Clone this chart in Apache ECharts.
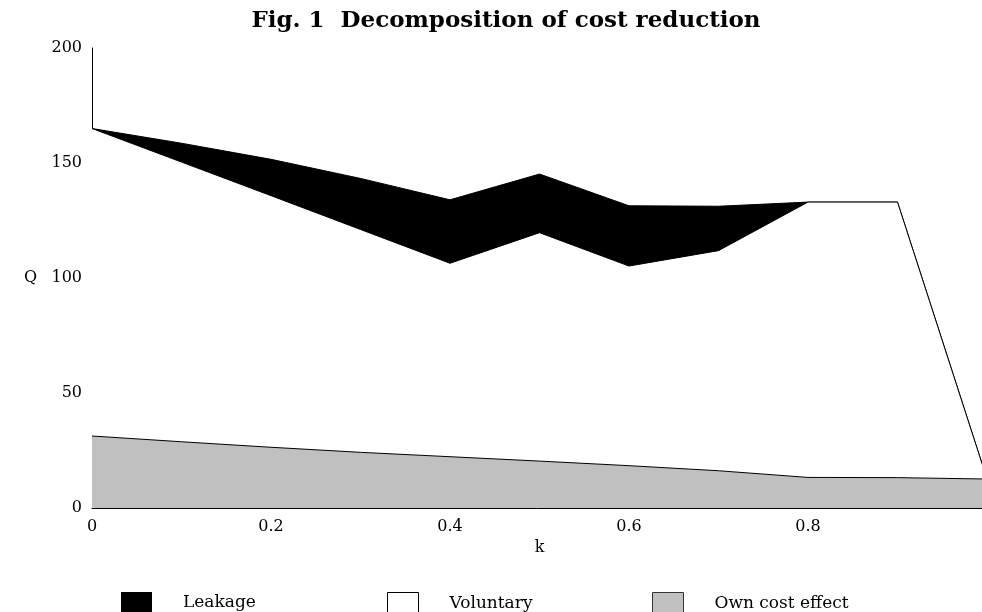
<!DOCTYPE html>
<html>
<head>
<meta charset="utf-8">
<script src="https://cdn.jsdelivr.net/npm/echarts@6/dist/echarts.min.js"></script>
<style>html,body{margin:0;padding:0;background:#fff}#c{width:982px;height:612px}</style>
</head>
<body>
<div id="c"></div>
<script>
const kValues = [0, 0.1, 0.2, 0.3, 0.4, 0.5, 0.6, 0.7, 0.8, 0.9, 1.0];
const leakageTop = [165, 158.6, 151.6, 143.3, 134, 145.2, 131.4, 131.2, 133, 133, 12.6];
const voluntaryTop = [165, 150.4, 135.8, 121.1, 106.4, 119.7, 105.2, 111.9, 133, 133, 12.6];
const ownCostTop = [31.3, 28.8, 26.4, 24.2, 22.3, 20.4, 18.4, 16.2, 13.3, 13.2, 12.6];
const xTicks = [0, 0.2, 0.4, 0.6, 0.8];
const yTicks = [0, 50, 100, 150, 200];

const FONT = 'DejaVu Serif';
const pairs = arr => kValues.map((k, i) => [k, arr[i]]);

function legendFor(name, left, itemStyle) {
  return {
    left: left, top: 592, padding: 0, itemWidth: 31, itemHeight: 22,
    selectedMode: false,
    textStyle: { fontFamily: FONT, fontSize: 17, color: '#000', padding: [0, 0, 0, 26] },
    data: [{ name: name, icon: 'rect', itemStyle: itemStyle }]
  };
}

const chart = echarts.init(document.getElementById('c'), null, { renderer: 'canvas' });
chart.setOption({
  animation: false,
  backgroundColor: '#fff',
  title: {
    text: 'Fig. 1  Decomposition of cost reduction',
    left: 501, top: 5, textAlign: 'center',
    textStyle: { fontFamily: FONT, fontWeight: 'bold', fontSize: 23, color: '#000' }
  },
  legend: [
    legendFor('Leakage', 121, { color: '#000', borderWidth: 0 }),
    legendFor('Voluntary', 387, { color: '#fff', borderColor: '#000', borderWidth: 1 }),
    legendFor('Own cost effect', 652, { color: '#c0c0c0', borderColor: '#333', borderWidth: 1 })
  ],
  grid: { left: 92, width: 895, top: 48, bottom: 104, outerBoundsMode: 'none', containLabel: false },
  xAxis: {
    type: 'value', min: 0, max: 1, interval: 0.2,
    name: 'k', nameLocation: 'middle', nameGap: 30,
    nameTextStyle: { fontFamily: FONT, fontSize: 16, color: '#000' },
    axisLine: { show: true, lineStyle: { color: '#000', width: 1 } },
    axisTick: { show: false },
    splitLine: { show: false },
    axisLabel: {
      fontFamily: FONT, fontSize: 16, color: '#000', margin: 11,
      showMaxLabel: false,
      formatter: v => (xTicks.some(t => Math.abs(t - v) < 1e-9) ? String(+v.toFixed(1)) : '')
    }
  },
  yAxis: {
    type: 'value', min: 0, max: 200, interval: 50,
    name: 'Q', nameLocation: 'middle', nameGap: 55, nameRotate: 0,
    nameTextStyle: { fontFamily: FONT, fontSize: 16, color: '#000' },
    axisLine: { show: true, lineStyle: { color: '#000', width: 1 } },
    axisTick: { show: false },
    splitLine: { show: false },
    axisLabel: {
      fontFamily: FONT, fontSize: 16, color: '#000', margin: 10,
      formatter: v => (yTicks.indexOf(v) >= 0 ? String(v) : '')
    }
  },
  series: [
    {
      name: 'Leakage', type: 'line', data: pairs(leakageTop), symbol: 'none',
      lineStyle: { color: '#000', width: 1 }, itemStyle: { color: '#000' },
      areaStyle: { color: '#000', opacity: 1 }, z: 2
    },
    {
      name: 'Voluntary', type: 'line', data: pairs(voluntaryTop), symbol: 'none',
      lineStyle: { color: '#000', width: 1 }, itemStyle: { color: '#fff' },
      areaStyle: { color: '#fff', opacity: 1 }, z: 3
    },
    {
      name: 'Own cost effect', type: 'line', data: pairs(ownCostTop), symbol: 'none',
      lineStyle: { color: '#000', width: 1 }, itemStyle: { color: '#c0c0c0' },
      areaStyle: { color: '#c0c0c0', opacity: 1 }, z: 4
    }
  ]
});
</script>
</body>
</html>
